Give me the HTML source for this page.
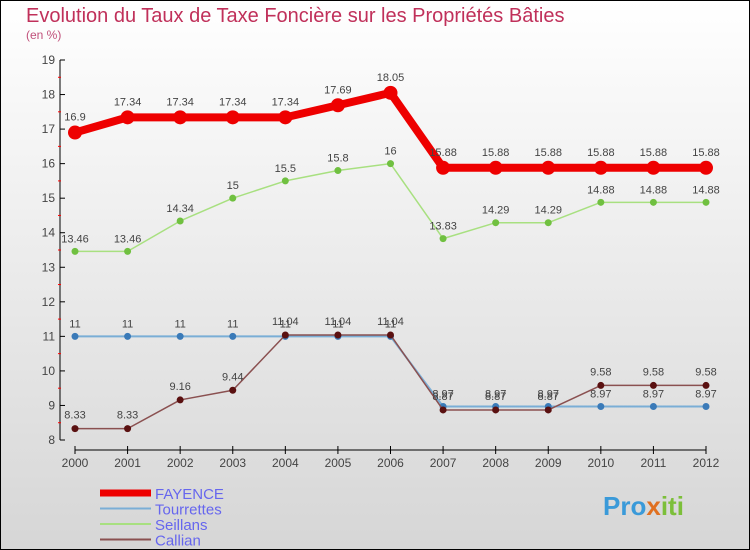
<!DOCTYPE html>
<html><head><meta charset="utf-8"><style>
body{margin:0}
svg{display:block;font-family:"Liberation Sans",sans-serif}
</style></head><body>
<svg id="c" width="750" height="550">
<defs><linearGradient id="bg" x1="0" y1="0" x2="0" y2="1"><stop offset="0" stop-color="#ffffff"/><stop offset="1" stop-color="#d6d6d6"/></linearGradient></defs>
<rect x="0.5" y="0.5" width="749" height="549" fill="url(#bg)" stroke="#000"/>
<text x="26" y="22" font-size="20" fill="#c0305a">Evolution du Taux de Taxe Foncière sur les Propriétés Bâties</text>
<text x="26" y="39" font-size="12" fill="#c0507a">(en %)</text>
<g id="axes"></g><g id="plot"></g>
<text x="603" y="515" font-size="26" font-weight="bold" fill="#3a9ad9">Pro<tspan fill="#e07020">x</tspan><tspan fill="#7cbf3a">iti</tspan></text>
</svg>
<script>
const years=[2000,2001,2002,2003,2004,2005,2006,2007,2008,2009,2010,2011,2012];
const fayence=[16.9,17.34,17.34,17.34,17.34,17.69,18.05,15.88,15.88,15.88,15.88,15.88,15.88];
const tourrettes=[11,11,11,11,11,11,11,8.97,8.97,8.97,8.97,8.97,8.97];
const seillans=[13.46,13.46,14.34,15,15.5,15.8,16,13.83,14.29,14.29,14.88,14.88,14.88];
const callian=[8.33,8.33,9.16,9.44,11.04,11.04,11.04,8.87,8.87,8.87,9.58,9.58,9.58];
const yTicks=[8,9,10,11,12,13,14,15,16,17,18,19];
const NS="http://www.w3.org/2000/svg";
const x=i=>75+i*(706-75)/(years.length-1);
const y=v=>440-(v-8)*(380/11);
function mk(p,tag,a){const e=document.createElementNS(NS,tag);for(const k in a)e.setAttribute(k,a[k]);p.appendChild(e);return e;}
const ax=document.getElementById('axes'),pl=document.getElementById('plot');
let e=mk(ax,'line',{x1:60,y1:60,x2:60,y2:440,stroke:'#000'});


e=mk(ax,'line',{x1:75,y1:450,x2:706,y2:450,stroke:'#000'});


yTicks.forEach(t=>{mk(ax,'line',{x1:60,y1:y(t),x2:65,y2:y(t),stroke:'#000'});
if(t<19)mk(ax,'line',{x1:58,y1:y(t+0.5),x2:61,y2:y(t+0.5),stroke:'#f00'});
const l=mk(ax,'text',{x:55,y:y(t)+4,'font-size':12,fill:'#444','text-anchor':'end'});l.textContent=t;

});
years.forEach((yr,i)=>{mk(ax,'line',{x1:x(i),y1:446,x2:x(i),y2:454,stroke:'#000'});
const l=mk(ax,'text',{x:x(i),y:467,'font-size':12,fill:'#444','text-anchor':'middle'});l.textContent=yr;

});
function series(d,col,w,r,dot,name,labOff){
const g=mk(pl,'g',{});


mk(g,'polyline',{points:d.map((v,i)=>x(i)+','+y(v)).join(' '),fill:'none',stroke:col,'stroke-width':w,'stroke-linejoin':'round'});
d.forEach((v,i)=>{const c=mk(g,'circle',{cx:x(i),cy:y(v),r:r,fill:dot});


const t=mk(g,'text',{x:x(i),y:y(v)-labOff,'font-size':11,fill:'#444','text-anchor':'middle'});t.textContent=v;

});}
series(tourrettes,'#7aaed6',2,3.5,'#3a7ab8','tourrettes',9);
series(callian,'#8a5050',1.5,3.5,'#5a1010','callian',10);
series(seillans,'#a8e080',1.5,3.5,'#70c040','seillans',9);
series(fayence,'#ee0000',8,7,'#ee0000','fayence',12);
const leg=[['FAYENCE','#ee0000',7],['Tourrettes','#7aaed6',2],['Seillans','#a8e080',2],['Callian','#8a5050',2]];
leg.forEach((l,i)=>{const g=mk(pl,'g',{});


const yy=493+i*15.5;
mk(g,'line',{x1:100,y1:yy,x2:151,y2:yy,stroke:l[1],'stroke-width':l[2]});
const t=mk(g,'text',{x:155,y:yy+6,'font-size':15,fill:'#6666ee'});t.textContent=l[0];});
</script>
</body></html>
